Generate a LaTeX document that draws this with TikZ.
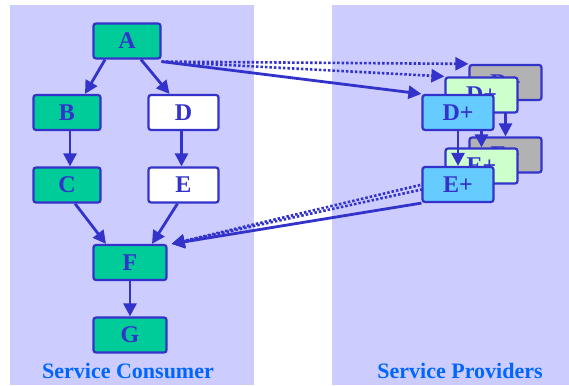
\documentclass[tikz,border=0pt]{standalone}
\usepackage{fontspec}
\setmainfont{Liberation Serif}
\usetikzlibrary{arrows.meta}
\definecolor{panel}{HTML}{CCCCFF}
\definecolor{edge}{HTML}{3333CC}
\definecolor{teal}{HTML}{00CC99}
\definecolor{lgreen}{HTML}{CCFFCC}
\definecolor{grayb}{HTML}{B2B2B2}
\definecolor{lblue}{HTML}{66CCFF}
\definecolor{title}{HTML}{0066FF}
\tikzset{
  box/.style={draw=edge, line width=2.2pt, rounded corners=2.5pt, minimum height=35pt,
    text=edge, font=\bfseries\fontsize{24}{24}\selectfont, inner sep=0pt},
  arr/.style={draw=edge, line width=2.8pt, -{Triangle[length=13pt,width=13pt]}},
  dot/.style={draw=edge, line width=2.6pt, dash pattern=on 2.5pt off 2pt, -{Triangle[length=13pt,width=13pt]}},
  ptitle/.style={text=title, font=\bfseries\fontsize{22}{22}\selectfont}
}
\begin{document}
\begin{tikzpicture}[x=1pt,y=-1pt]
\useasboundingbox (0,0) rectangle (569,385);
\fill[white] (0,0) rectangle (569,385);
\fill[panel] (10,5) rectangle (254,385);
\fill[panel] (332,5) rectangle (569,385);
% consumer graph
\node[box, fill=teal, minimum width=67pt] (A) at (127,41) {A};
\node[box, fill=teal, minimum width=67pt] (B) at (67,112.5) {B};
\node[box, fill=white, minimum width=70pt] (D) at (183.5,112.5) {D};
\node[box, fill=teal, minimum width=67pt] (C) at (67,185) {C};
\node[box, fill=white, minimum width=70pt] (E) at (183.5,185) {E};
\node[box, fill=teal, minimum width=73pt] (F) at (130,262.5) {F};
\node[box, fill=teal, minimum width=73pt] (G) at (130,335) {G};
\draw[arr] ([xshift=-22pt]A.south) -- ([xshift=18pt]B.north);
\draw[arr] ([xshift=14pt]A.south) -- ([xshift=-14pt]D.north);
\draw[arr] ([xshift=3pt]B.south) -- ([xshift=3pt]C.north);
\draw[arr] ([xshift=-2pt]D.south) -- ([xshift=-2pt]E.north);
\draw[arr] ([xshift=8pt]C.south) -- ([xshift=-24pt]F.north);
\draw[arr] ([xshift=-6pt]E.south) -- ([xshift=22pt]F.north);
\draw[arr] (F) -- (G);
% providers: back (gray)
\node[box, fill=grayb, minimum width=72pt] (Dg) at (505.5,82.5) {D+};
\node[box, fill=grayb, minimum width=72pt] (Eg) at (505.5,155) {E+};
\draw[arr] (Dg) -- (Eg);
% middle (light green)
\node[box, fill=lgreen, minimum width=72pt] (Dl) at (481.5,95) {D+};
\node[box, fill=lgreen, minimum width=72pt] (El) at (481.5,166) {E+};
\draw[arr] (Dl) -- (El);
% dotted links
\coordinate (a1) at ([yshift=-2pt]A.south east);
\draw[dot] (a1) -- (Dg.north west);
\draw[dot] (a1) -- (Dl.north west);
\coordinate (f1) at ([xshift=4pt]F.north east);
\draw[dot] (Eg.south west) -- (f1);
\draw[dot] (El.south west) -- (f1);
% front (blue)
\node[box, fill=lblue, minimum width=71pt] (Db) at (458,112.5) {D+};
\node[box, fill=lblue, minimum width=71pt] (Eb) at (458,184.5) {E+};
\draw[arr] (Db) -- (Eb);
\draw[arr] (a1) -- (Db.north west);
\draw[arr] (Eb.south west) -- (f1);
% titles
\node[ptitle] (tc) at (128,371) {Service Consumer};
\node[ptitle] (tp) at (460,371) {Service Providers};
\end{tikzpicture}
\end{document}
